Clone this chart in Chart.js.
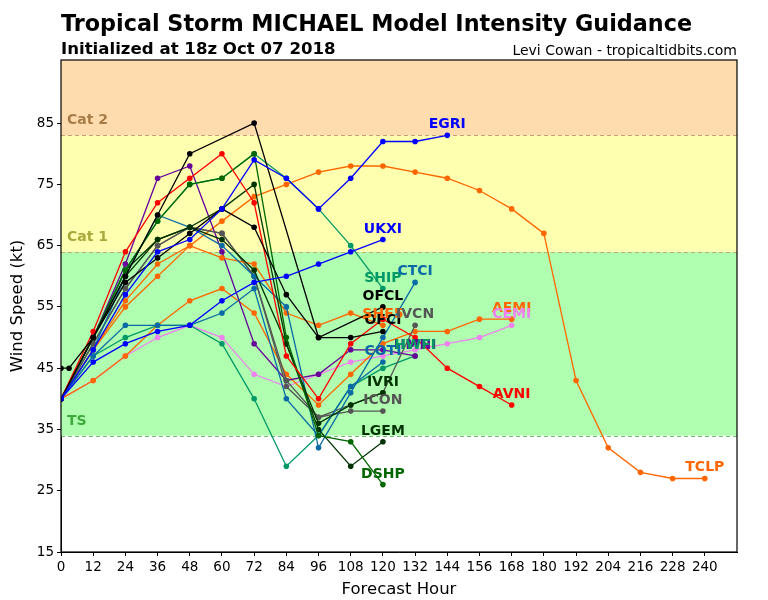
<!DOCTYPE html>
<html>
<head>
<meta charset="utf-8">
<title>Tropical Storm MICHAEL Model Intensity Guidance</title>
<script src="https://cdn.jsdelivr.net/npm/chart.js@4.4.1/dist/chart.umd.min.js"></script>
<style>
  html, body { margin: 0; padding: 0; background: #fff; }
  #wrap { width: 768px; height: 600px; }
</style>
</head>
<body>
<div id="wrap"><canvas id="intensityChart" width="768" height="600"></canvas></div>
<script>
// forecast hours (every 12h) and the OFCL hours
const hours = [0, 12, 24, 36, 48, 60, 72, 84, 96, 108, 120, 132, 144, 156, 168, 180, 192, 204, 216, 228, 240];
const ofclHours = [0, 3, 12, 24, 36, 48, 72, 96, 120];

// wind speed (kt) per model
const tclp = [40, 48, 55, 60, 65, 69, 73, 75, 77, 78, 78, 77, 76, 74, 71, 67, 43, 32, 28, 27, 27];
const egri = [40, 48, 57, 64, 66, 71, 79, 76, 71, 76, 82, 82, 83];
const ukxi = [40, 46, 49, 51, 52, 56, 59, 60, 62, 64, 66];
const ship = [40, 50, 61, 69, 75, 76, 80, 76, 71, 65, 58];
const dshp = [40, 50, 61, 69, 75, 76, 80, 50, 34, 33, 26];
const lgem = [40, 50, 60, 66, 68, 71, 75, 49, 35, 29, 33];
const ivri = [40, 50, 61, 66, 68, 66, 61, 49, 36, 39, 41];
const icon = [40, 49, 58, 65, 68, 67, 60, 43, 37, 38, 38];
const ivcn = [40, 49, 58, 65, 68, 67, 60, 42, 37, 39, 41, 52];
const ofcl = [45, 45, 50, 60, 70, 80, 85, 50, 55];
const ofci = [40, 50, 59, 63, 67, 71, 68, 57, 50, 50, 51];
const avni = [40, 51, 64, 72, 76, 80, 72, 47, 40, 49, 53, 50, 45, 42, 39];
const aemi = [40, 43, 47, 52, 56, 58, 54, 44, 39, 44, 49, 51, 51, 53, 53];
const cemi = [40, 43, 47, 50, 52, 50, 44, 42, 44, 46, 47, 48, 49, 50, 52];
const shf5 = [40, 48, 56, 62, 65, 63, 62, 54, 52, 54, 52];
const ctci = [40, 48, 60, 70, 68, 65, 60, 55, 32, 41, 50, 59];
const coti = [40, 47, 52, 52, 52, 54, 58, 40, 34, 42, 46];
const hwfi = [40, 47, 50, 52, 52, 49, 40, 29, 34, 42, 45, 47];
const hmni = [40, 50, 62, 76, 78, 64, 49, 43, 44, 48, 48, 47];

// axis ticks and intensity category thresholds
const xTicks = hours;
const yTicks = [15, 25, 35, 45, 55, 65, 75, 85];
const zoneEdges = [34, 64, 83];
const zoneNames = ['TS', 'Cat 1', 'Cat 2'];

const models = [
  { name: 'EGRI', hrs: hours, wind: egri, color: '#0000ff' },
  { name: 'UKXI', hrs: hours, wind: ukxi, color: '#0000ff' },
  { name: 'OFCL', hrs: ofclHours, wind: ofcl, color: '#000000' },
  { name: 'OFCI', hrs: hours, wind: ofci, color: '#000000' },
  { name: 'AVNI', hrs: hours, wind: avni, color: '#ff0000' },
  { name: 'DSHP', hrs: hours, wind: dshp, color: '#006600' },
  { name: 'SHIP', hrs: hours, wind: ship, color: '#009966' },
  { name: 'LGEM', hrs: hours, wind: lgem, color: '#003300' },
  { name: 'IVRI', hrs: hours, wind: ivri, color: '#003300' },
  { name: 'CTCI', hrs: hours, wind: ctci, color: '#0a6aa6' },
  { name: 'COTI', hrs: hours, wind: coti, color: '#0a6aa6' },
  { name: 'SHF5', hrs: hours, wind: shf5, color: '#ff6600' },
  { name: 'ICON', hrs: hours, wind: icon, color: '#555555' },
  { name: 'IVCN', hrs: hours, wind: ivcn, color: '#555555' },
  { name: 'HMNI', hrs: hours, wind: hmni, color: '#660099' },
  { name: 'HWFI', hrs: hours, wind: hwfi, color: '#009966' },
  { name: 'AEMI', hrs: hours, wind: aemi, color: '#ff6600' },
  { name: 'CEMI', hrs: hours, wind: cemi, color: '#ee82ee' },
  { name: 'TCLP', hrs: hours, wind: tclp, color: '#ff6600' }
];

const FONT = '"DejaVu Sans", sans-serif';

// shaded Saffir-Simpson bands behind the lines
const zonePlugin = {
  id: 'zones',
  beforeDatasetsDraw(chart) {
    const { ctx, chartArea: a, scales: { y } } = chart;
    const fills = ['#b0ffb0', '#ffffb0', '#ffdcae'];
    const lines = ['#70c070', '#c0b070', '#c8a070'];
    const textCols = ['#3daa3d', '#a8a83c', '#a87c48'];
    ctx.save();
    for (let i = 0; i < zoneEdges.length; i++) {
      const y0 = y.getPixelForValue(zoneEdges[i]);
      const y1 = i + 1 < zoneEdges.length ? y.getPixelForValue(zoneEdges[i + 1]) : a.top;
      ctx.fillStyle = fills[i];
      ctx.fillRect(a.left, y1, a.right - a.left, y0 - y1);
    }
    for (let i = 0; i < zoneEdges.length; i++) {
      const yy = Math.round(y.getPixelForValue(zoneEdges[i])) + 0.5;
      ctx.strokeStyle = lines[i];
      ctx.lineWidth = 1.2;
      ctx.setLineDash([4, 3]);
      ctx.beginPath();
      ctx.moveTo(a.left, yy);
      ctx.lineTo(a.right, yy);
      ctx.stroke();
      ctx.setLineDash([]);
      ctx.fillStyle = textCols[i];
      ctx.font = 'bold 14px ' + FONT;
      ctx.textAlign = 'left';
      ctx.textBaseline = 'alphabetic';
      ctx.fillText(zoneNames[i], a.left + 6, yy - 12);
    }
    ctx.restore();
  }
};

// model names at the end of each track, plus the frame
const labelPlugin = {
  id: 'endLabels',
  afterDatasetsDraw(chart) {
    const { ctx, chartArea: a } = chart;
    ctx.save();
    ctx.font = 'bold 14px ' + FONT;
    ctx.textAlign = 'center';
    ctx.textBaseline = 'alphabetic';
    chart.data.datasets.forEach((ds, i) => {
      const pts = chart.getDatasetMeta(i).data;
      const last = pts[pts.length - 1];
      ctx.fillStyle = ds.borderColor;
      ctx.fillText(ds.label, last.x, last.y - 7);
    });
    ctx.strokeStyle = '#000';
    ctx.lineWidth = 1.2;
    ctx.strokeRect(a.left, a.top, a.right - a.left, a.bottom - a.top);
    ctx.restore();
  }
};

const headerPlugin = {
  id: 'header',
  afterDraw(chart) {
    const { ctx } = chart;
    ctx.save();
    ctx.fillStyle = '#000';
    ctx.textBaseline = 'alphabetic';
    ctx.textAlign = 'left';
    ctx.font = 'bold 22.3px ' + FONT;
    ctx.fillText('Tropical Storm MICHAEL Model Intensity Guidance', 61, 31);
    ctx.font = 'bold 16.6px ' + FONT;
    ctx.fillText('Initialized at 18z Oct 07 2018', 61, 54);
    ctx.textAlign = 'right';
    ctx.font = '14px ' + FONT;
    ctx.fillText('Levi Cowan - tropicaltidbits.com', 737, 55);
    ctx.restore();
  }
};

const datasets = models.map(m => ({
  label: m.name,
  data: m.wind.map((v, i) => ({ x: m.hrs[i], y: v })),
  borderColor: m.color,
  backgroundColor: m.color,
  borderWidth: 1.3,
  pointRadius: 2.8,
  pointHoverRadius: 2.8,
  pointBorderWidth: 0,
  tension: 0,
  fill: false
}));

new Chart(document.getElementById('intensityChart'), {
  type: 'line',
  data: { datasets },
  options: {
    responsive: false,
    animation: false,
    layout: { padding: { top: 60, right: 31, left: 0, bottom: 0 } },
    plugins: { legend: { display: false }, tooltip: { enabled: false } },
    scales: {
      x: {
        type: 'linear',
        min: 0,
        max: 252,
        afterBuildTicks(axis) { axis.ticks = xTicks.map(v => ({ value: v })); },
        afterFit(scale) { scale.height = 48; },
        ticks: { color: '#000', font: { family: FONT, size: 13.5 }, padding: 3, maxRotation: 0, autoSkip: false },
        grid: { display: true, drawOnChartArea: false, drawTicks: true, tickLength: 4, tickColor: '#000' },
        border: { display: true, color: '#000', width: 1 },
        title: { display: true, text: 'Forecast Hour', color: '#000', font: { family: FONT, size: 16.5 }, padding: { top: 0, bottom: 0 } }
      },
      y: {
        type: 'linear',
        min: 15,
        max: 95.3,
        afterBuildTicks(axis) { axis.ticks = yTicks.map(v => ({ value: v })); },
        afterFit(scale) { scale.width = 61; },
        ticks: { color: '#000', font: { family: FONT, size: 13.5 }, padding: 3, autoSkip: false },
        grid: { display: true, drawOnChartArea: false, drawTicks: true, tickLength: 4, tickColor: '#000' },
        border: { display: true, color: '#000', width: 1 },
        title: { display: true, text: 'Wind Speed (kt)', color: '#000', font: { family: FONT, size: 16.5 }, padding: { top: 8, bottom: 0 } }
      }
    }
  },
  plugins: [zonePlugin, labelPlugin, headerPlugin]
});
</script>
</body>
</html>
